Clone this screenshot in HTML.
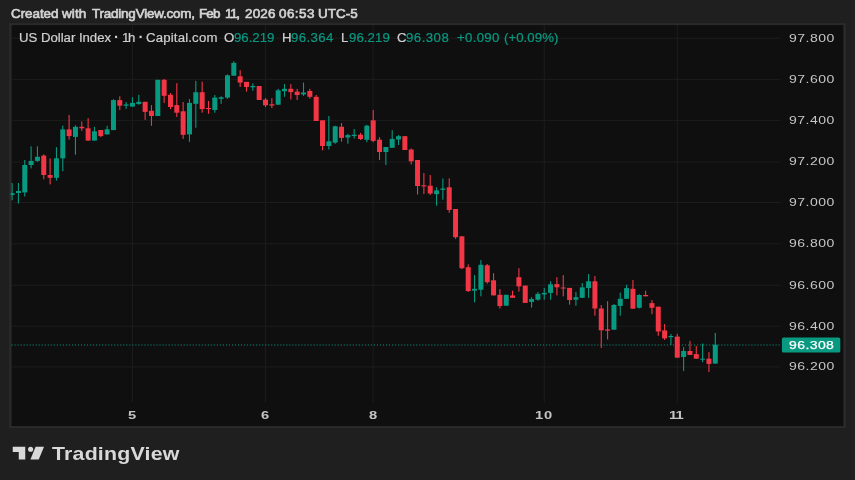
<!DOCTYPE html>
<html><head><meta charset="utf-8"><title>US Dollar Index</title>
<style>
html,body{margin:0;padding:0;}
body{width:855px;height:480px;background:#1f1f1f;overflow:hidden;position:relative;font-family:"Liberation Sans",sans-serif;}
.t{position:absolute;white-space:nowrap;height:16px;line-height:16px;font-size:12px;transform-origin:0 50%;transform:scaleX(1.1);}
.hd{color:#d4d4d4;}
.lg{color:#cfcfcf;}
.gr{color:#089981;}
.pl{color:#c6c6c6;}
.cu{color:#ffffff;}
.tl{color:#c4c4c4;}
#clip{position:absolute;left:0;top:0;width:855px;height:480px;overflow:hidden;}
#clip svg{position:absolute;left:0;top:0;}
#cur{position:absolute;left:782px;top:337.3px;width:58.3px;height:15.2px;background:#089981;border-radius:1.5px;}
#logo{position:absolute;left:0;top:0;}
#lt{position:absolute;left:51.75px;top:442.0px;height:24px;line-height:24px;font-size:17.8px;font-weight:bold;color:#d9d9d9;white-space:nowrap;transform-origin:0 50%;transform:scaleX(1.2);letter-spacing:0.167px;}
</style></head><body>
<div id="clip"><svg width="855" height="480" viewBox="0 0 855 480">
<rect x="9.35" y="23.2" width="836.5" height="404.9" fill="#2b2b2b"/>
<rect x="11.55" y="25.1" width="831.8" height="401" fill="#0f0f0f"/>
<rect x="11.55" y="37.75" width="769.3" height="1.1" fill="#1c1c1c"/>
<rect x="11.55" y="78.85" width="769.3" height="1.1" fill="#1c1c1c"/>
<rect x="11.55" y="119.85" width="769.3" height="1.1" fill="#1c1c1c"/>
<rect x="11.55" y="161.45" width="769.3" height="1.1" fill="#1c1c1c"/>
<rect x="11.55" y="201.95" width="769.3" height="1.1" fill="#1c1c1c"/>
<rect x="11.55" y="243.25" width="769.3" height="1.1" fill="#1c1c1c"/>
<rect x="11.55" y="284.75" width="769.3" height="1.1" fill="#1c1c1c"/>
<rect x="11.55" y="325.65" width="769.3" height="1.1" fill="#1c1c1c"/>
<rect x="11.55" y="366.35" width="769.3" height="1.1" fill="#1c1c1c"/>
<rect x="131.91" y="25.1" width="1.1" height="377.3" fill="#1c1c1c"/>
<rect x="264.95" y="25.1" width="1.1" height="377.3" fill="#1c1c1c"/>
<rect x="372.64" y="25.1" width="1.1" height="377.3" fill="#1c1c1c"/>
<rect x="543.69" y="25.1" width="1.1" height="377.3" fill="#1c1c1c"/>
<rect x="676.73" y="25.1" width="1.1" height="377.3" fill="#1c1c1c"/>
<line x1="11.5" y1="345" x2="781" y2="345" stroke="#089981" stroke-width="1.15" stroke-dasharray="1.1 1.92" opacity="0.95"/>
<clipPath id="cc"><rect x="10.6" y="25.1" width="770" height="401"/></clipPath><g clip-path="url(#cc)">
<rect x="11.55" y="183.0" width="1.1" height="17.3" fill="#089981"/>
<rect x="9.60" y="193.2" width="5.0" height="1.8" fill="#089981"/>
<rect x="17.88" y="183.0" width="1.1" height="20.5" fill="#089981"/>
<rect x="15.93" y="191.0" width="5.0" height="2.0" fill="#089981"/>
<rect x="24.22" y="160.0" width="1.1" height="36.5" fill="#089981"/>
<rect x="22.27" y="165.0" width="5.0" height="27.4" fill="#089981"/>
<rect x="30.55" y="146.3" width="1.1" height="22.1" fill="#089981"/>
<rect x="28.60" y="160.9" width="5.0" height="4.1" fill="#089981"/>
<rect x="36.89" y="146.3" width="1.1" height="15.5" fill="#089981"/>
<rect x="34.94" y="156.8" width="5.0" height="4.1" fill="#089981"/>
<rect x="43.23" y="154.3" width="1.1" height="25.0" fill="#f23645"/>
<rect x="41.27" y="155.6" width="5.0" height="19.4" fill="#f23645"/>
<rect x="49.56" y="158.5" width="1.1" height="25.9" fill="#f23645"/>
<rect x="47.61" y="175.0" width="5.0" height="2.8" fill="#f23645"/>
<rect x="55.90" y="147.2" width="1.1" height="33.4" fill="#089981"/>
<rect x="53.95" y="158.3" width="5.0" height="19.5" fill="#089981"/>
<rect x="62.23" y="125.6" width="1.1" height="45.6" fill="#089981"/>
<rect x="60.28" y="129.4" width="5.0" height="28.9" fill="#089981"/>
<rect x="68.56" y="114.9" width="1.1" height="24.8" fill="#f23645"/>
<rect x="66.61" y="129.4" width="5.0" height="6.7" fill="#f23645"/>
<rect x="74.90" y="125.3" width="1.1" height="29.4" fill="#089981"/>
<rect x="72.95" y="126.8" width="5.0" height="10.1" fill="#089981"/>
<rect x="81.23" y="121.5" width="1.1" height="9.4" fill="#f23645"/>
<rect x="79.28" y="126.8" width="5.0" height="1.5" fill="#f23645"/>
<rect x="87.57" y="118.1" width="1.1" height="22.5" fill="#f23645"/>
<rect x="85.62" y="128.3" width="5.0" height="12.3" fill="#f23645"/>
<rect x="93.91" y="126.8" width="1.1" height="13.8" fill="#089981"/>
<rect x="91.95" y="131.3" width="5.0" height="9.3" fill="#089981"/>
<rect x="100.24" y="130.0" width="1.1" height="7.1" fill="#f23645"/>
<rect x="98.29" y="130.0" width="5.0" height="6.1" fill="#f23645"/>
<rect x="106.58" y="125.7" width="1.1" height="8.7" fill="#089981"/>
<rect x="104.62" y="129.3" width="5.0" height="5.1" fill="#089981"/>
<rect x="112.91" y="99.1" width="1.1" height="31.0" fill="#089981"/>
<rect x="110.96" y="100.1" width="5.0" height="30.0" fill="#089981"/>
<rect x="119.24" y="96.3" width="1.1" height="13.7" fill="#f23645"/>
<rect x="117.29" y="100.1" width="5.0" height="5.6" fill="#f23645"/>
<rect x="125.58" y="102.0" width="1.1" height="6.9" fill="#089981"/>
<rect x="123.63" y="104.4" width="5.0" height="1.3" fill="#089981"/>
<rect x="131.91" y="97.3" width="1.1" height="9.3" fill="#089981"/>
<rect x="129.97" y="102.9" width="5.0" height="3.7" fill="#089981"/>
<rect x="138.25" y="94.8" width="1.1" height="10.0" fill="#089981"/>
<rect x="136.30" y="101.8" width="5.0" height="2.2" fill="#089981"/>
<rect x="144.58" y="101.8" width="1.1" height="18.0" fill="#f23645"/>
<rect x="142.63" y="101.8" width="5.0" height="10.1" fill="#f23645"/>
<rect x="150.92" y="105.1" width="1.1" height="20.7" fill="#f23645"/>
<rect x="148.97" y="110.8" width="5.0" height="5.2" fill="#f23645"/>
<rect x="157.25" y="79.8" width="1.1" height="36.2" fill="#089981"/>
<rect x="155.31" y="79.8" width="5.0" height="36.2" fill="#089981"/>
<rect x="163.59" y="78.9" width="1.1" height="24.0" fill="#f23645"/>
<rect x="161.64" y="79.8" width="5.0" height="16.0" fill="#f23645"/>
<rect x="169.92" y="93.0" width="1.1" height="16.1" fill="#f23645"/>
<rect x="167.97" y="94.8" width="5.0" height="12.2" fill="#f23645"/>
<rect x="176.26" y="83.2" width="1.1" height="33.8" fill="#f23645"/>
<rect x="174.31" y="105.1" width="5.0" height="7.6" fill="#f23645"/>
<rect x="182.59" y="102.0" width="1.1" height="36.9" fill="#f23645"/>
<rect x="180.64" y="111.3" width="5.0" height="23.5" fill="#f23645"/>
<rect x="188.93" y="99.1" width="1.1" height="42.8" fill="#089981"/>
<rect x="186.98" y="102.9" width="5.0" height="31.5" fill="#089981"/>
<rect x="195.26" y="80.8" width="1.1" height="46.9" fill="#089981"/>
<rect x="193.31" y="92.2" width="5.0" height="11.6" fill="#089981"/>
<rect x="201.60" y="81.7" width="1.1" height="31.0" fill="#f23645"/>
<rect x="199.65" y="92.2" width="5.0" height="16.9" fill="#f23645"/>
<rect x="207.93" y="101.0" width="1.1" height="12.8" fill="#f23645"/>
<rect x="205.98" y="108.0" width="5.0" height="1.1" fill="#f23645"/>
<rect x="214.27" y="95.0" width="1.1" height="17.7" fill="#089981"/>
<rect x="212.32" y="97.6" width="5.0" height="12.4" fill="#089981"/>
<rect x="220.60" y="96.3" width="1.1" height="7.5" fill="#089981"/>
<rect x="218.66" y="97.3" width="5.0" height="1.5" fill="#089981"/>
<rect x="226.94" y="74.4" width="1.1" height="24.4" fill="#089981"/>
<rect x="224.99" y="75.3" width="5.0" height="22.3" fill="#089981"/>
<rect x="233.27" y="61.3" width="1.1" height="14.4" fill="#089981"/>
<rect x="231.32" y="62.9" width="5.0" height="12.8" fill="#089981"/>
<rect x="239.61" y="70.1" width="1.1" height="16.9" fill="#f23645"/>
<rect x="237.66" y="76.3" width="5.0" height="6.3" fill="#f23645"/>
<rect x="245.94" y="81.9" width="1.1" height="9.7" fill="#f23645"/>
<rect x="244.00" y="81.9" width="5.0" height="5.1" fill="#f23645"/>
<rect x="252.28" y="83.3" width="1.1" height="7.5" fill="#089981"/>
<rect x="250.33" y="86.0" width="5.0" height="1.3" fill="#089981"/>
<rect x="258.62" y="86.0" width="1.1" height="14.0" fill="#f23645"/>
<rect x="256.67" y="86.0" width="5.0" height="14.0" fill="#f23645"/>
<rect x="264.95" y="98.1" width="1.1" height="9.0" fill="#f23645"/>
<rect x="263.00" y="99.6" width="5.0" height="5.7" fill="#f23645"/>
<rect x="271.29" y="98.1" width="1.1" height="10.0" fill="#f23645"/>
<rect x="269.34" y="104.3" width="5.0" height="1.3" fill="#f23645"/>
<rect x="277.62" y="88.8" width="1.1" height="15.9" fill="#089981"/>
<rect x="275.67" y="90.3" width="5.0" height="14.4" fill="#089981"/>
<rect x="283.95" y="84.1" width="1.1" height="12.7" fill="#089981"/>
<rect x="282.00" y="88.8" width="5.0" height="2.4" fill="#089981"/>
<rect x="290.29" y="84.1" width="1.1" height="15.4" fill="#f23645"/>
<rect x="288.34" y="88.8" width="5.0" height="3.3" fill="#f23645"/>
<rect x="296.62" y="88.8" width="1.1" height="11.2" fill="#f23645"/>
<rect x="294.68" y="91.6" width="5.0" height="3.4" fill="#f23645"/>
<rect x="302.96" y="82.6" width="1.1" height="13.3" fill="#089981"/>
<rect x="301.01" y="92.5" width="5.0" height="1.9" fill="#089981"/>
<rect x="309.30" y="88.8" width="1.1" height="9.9" fill="#f23645"/>
<rect x="307.35" y="91.0" width="5.0" height="5.8" fill="#f23645"/>
<rect x="315.63" y="95.0" width="1.1" height="26.0" fill="#f23645"/>
<rect x="313.68" y="96.8" width="5.0" height="24.2" fill="#f23645"/>
<rect x="321.97" y="120.3" width="1.1" height="30.0" fill="#f23645"/>
<rect x="320.02" y="120.3" width="5.0" height="25.7" fill="#f23645"/>
<rect x="328.30" y="116.0" width="1.1" height="33.4" fill="#089981"/>
<rect x="326.35" y="141.3" width="5.0" height="4.7" fill="#089981"/>
<rect x="334.63" y="125.7" width="1.1" height="18.0" fill="#089981"/>
<rect x="332.69" y="126.3" width="5.0" height="16.3" fill="#089981"/>
<rect x="340.97" y="123.1" width="1.1" height="18.6" fill="#f23645"/>
<rect x="339.02" y="126.8" width="5.0" height="11.1" fill="#f23645"/>
<rect x="347.31" y="133.8" width="1.1" height="9.9" fill="#089981"/>
<rect x="345.36" y="135.1" width="5.0" height="2.4" fill="#089981"/>
<rect x="353.64" y="129.1" width="1.1" height="9.4" fill="#089981"/>
<rect x="351.69" y="134.7" width="5.0" height="1.3" fill="#089981"/>
<rect x="359.98" y="132.9" width="1.1" height="7.1" fill="#f23645"/>
<rect x="358.03" y="134.7" width="5.0" height="4.3" fill="#f23645"/>
<rect x="366.31" y="124.8" width="1.1" height="17.4" fill="#089981"/>
<rect x="364.36" y="125.7" width="5.0" height="14.1" fill="#089981"/>
<rect x="372.64" y="110.0" width="1.1" height="32.2" fill="#f23645"/>
<rect x="370.69" y="120.3" width="5.0" height="20.6" fill="#f23645"/>
<rect x="378.98" y="137.2" width="1.1" height="22.8" fill="#f23645"/>
<rect x="377.03" y="139.7" width="5.0" height="12.3" fill="#f23645"/>
<rect x="385.31" y="147.0" width="1.1" height="18.0" fill="#089981"/>
<rect x="383.37" y="147.0" width="5.0" height="5.0" fill="#089981"/>
<rect x="391.65" y="130.2" width="1.1" height="17.6" fill="#089981"/>
<rect x="389.70" y="138.9" width="5.0" height="8.9" fill="#089981"/>
<rect x="397.99" y="135.0" width="1.1" height="10.0" fill="#089981"/>
<rect x="396.04" y="136.2" width="5.0" height="3.3" fill="#089981"/>
<rect x="404.32" y="136.2" width="1.1" height="13.8" fill="#f23645"/>
<rect x="402.37" y="136.2" width="5.0" height="13.8" fill="#f23645"/>
<rect x="410.66" y="148.5" width="1.1" height="16.0" fill="#f23645"/>
<rect x="408.71" y="149.5" width="5.0" height="11.8" fill="#f23645"/>
<rect x="416.99" y="160.0" width="1.1" height="34.5" fill="#f23645"/>
<rect x="415.04" y="160.0" width="5.0" height="26.0" fill="#f23645"/>
<rect x="423.32" y="173.1" width="1.1" height="21.0" fill="#f23645"/>
<rect x="421.38" y="185.3" width="5.0" height="1.1" fill="#f23645"/>
<rect x="429.66" y="175.0" width="1.1" height="20.0" fill="#f23645"/>
<rect x="427.71" y="185.7" width="5.0" height="7.8" fill="#f23645"/>
<rect x="436.00" y="187.2" width="1.1" height="18.5" fill="#089981"/>
<rect x="434.05" y="190.4" width="5.0" height="3.7" fill="#089981"/>
<rect x="442.33" y="178.5" width="1.1" height="21.2" fill="#089981"/>
<rect x="440.38" y="188.5" width="5.0" height="1.3" fill="#089981"/>
<rect x="448.67" y="178.3" width="1.1" height="34.5" fill="#f23645"/>
<rect x="446.72" y="187.3" width="5.0" height="22.7" fill="#f23645"/>
<rect x="455.00" y="209.0" width="1.1" height="29.8" fill="#f23645"/>
<rect x="453.05" y="209.0" width="5.0" height="28.2" fill="#f23645"/>
<rect x="461.34" y="236.3" width="1.1" height="32.8" fill="#f23645"/>
<rect x="459.39" y="236.3" width="5.0" height="31.9" fill="#f23645"/>
<rect x="467.67" y="264.4" width="1.1" height="27.6" fill="#f23645"/>
<rect x="465.72" y="267.2" width="5.0" height="23.8" fill="#f23645"/>
<rect x="474.00" y="275.1" width="1.1" height="27.2" fill="#089981"/>
<rect x="472.06" y="288.8" width="5.0" height="1.9" fill="#089981"/>
<rect x="480.34" y="260.1" width="1.1" height="36.2" fill="#089981"/>
<rect x="478.39" y="264.8" width="5.0" height="24.9" fill="#089981"/>
<rect x="486.68" y="264.0" width="1.1" height="19.7" fill="#f23645"/>
<rect x="484.73" y="265.3" width="5.0" height="16.9" fill="#f23645"/>
<rect x="493.01" y="273.2" width="1.1" height="22.2" fill="#f23645"/>
<rect x="491.06" y="280.3" width="5.0" height="15.1" fill="#f23645"/>
<rect x="499.35" y="289.2" width="1.1" height="19.3" fill="#f23645"/>
<rect x="497.40" y="294.8" width="5.0" height="11.3" fill="#f23645"/>
<rect x="505.68" y="294.8" width="1.1" height="10.9" fill="#089981"/>
<rect x="503.73" y="294.8" width="5.0" height="10.9" fill="#089981"/>
<rect x="512.01" y="290.7" width="1.1" height="7.1" fill="#f23645"/>
<rect x="510.06" y="295.4" width="5.0" height="2.4" fill="#f23645"/>
<rect x="518.35" y="268.2" width="1.1" height="23.4" fill="#f23645"/>
<rect x="516.40" y="277.2" width="5.0" height="9.2" fill="#f23645"/>
<rect x="524.69" y="285.6" width="1.1" height="17.3" fill="#f23645"/>
<rect x="522.74" y="285.6" width="5.0" height="17.3" fill="#f23645"/>
<rect x="531.02" y="297.2" width="1.1" height="10.4" fill="#089981"/>
<rect x="529.07" y="299.1" width="5.0" height="2.8" fill="#089981"/>
<rect x="537.36" y="292.0" width="1.1" height="8.6" fill="#089981"/>
<rect x="535.40" y="293.9" width="5.0" height="5.8" fill="#089981"/>
<rect x="543.69" y="287.9" width="1.1" height="11.8" fill="#089981"/>
<rect x="541.74" y="292.9" width="5.0" height="1.5" fill="#089981"/>
<rect x="550.03" y="281.3" width="1.1" height="18.4" fill="#089981"/>
<rect x="548.08" y="284.3" width="5.0" height="8.6" fill="#089981"/>
<rect x="556.36" y="277.2" width="1.1" height="18.2" fill="#f23645"/>
<rect x="554.41" y="284.1" width="5.0" height="3.2" fill="#f23645"/>
<rect x="562.70" y="275.1" width="1.1" height="21.2" fill="#f23645"/>
<rect x="560.75" y="287.5" width="5.0" height="1.0" fill="#f23645"/>
<rect x="569.03" y="287.9" width="1.1" height="16.8" fill="#f23645"/>
<rect x="567.08" y="287.9" width="5.0" height="12.1" fill="#f23645"/>
<rect x="575.37" y="291.9" width="1.1" height="13.9" fill="#089981"/>
<rect x="573.41" y="297.2" width="5.0" height="2.5" fill="#089981"/>
<rect x="581.70" y="283.0" width="1.1" height="14.8" fill="#089981"/>
<rect x="579.75" y="287.4" width="5.0" height="10.4" fill="#089981"/>
<rect x="588.04" y="274.0" width="1.1" height="23.8" fill="#089981"/>
<rect x="586.09" y="281.3" width="5.0" height="6.8" fill="#089981"/>
<rect x="594.37" y="276.0" width="1.1" height="39.7" fill="#f23645"/>
<rect x="592.42" y="281.3" width="5.0" height="27.2" fill="#f23645"/>
<rect x="600.71" y="305.0" width="1.1" height="42.9" fill="#f23645"/>
<rect x="598.75" y="308.5" width="5.0" height="21.8" fill="#f23645"/>
<rect x="607.04" y="301.2" width="1.1" height="38.3" fill="#f23645"/>
<rect x="605.09" y="329.4" width="5.0" height="1.3" fill="#f23645"/>
<rect x="613.38" y="304.0" width="1.1" height="25.7" fill="#089981"/>
<rect x="611.43" y="305.0" width="5.0" height="24.7" fill="#089981"/>
<rect x="619.71" y="292.6" width="1.1" height="23.1" fill="#089981"/>
<rect x="617.76" y="298.8" width="5.0" height="7.1" fill="#089981"/>
<rect x="626.05" y="284.7" width="1.1" height="14.1" fill="#089981"/>
<rect x="624.10" y="288.1" width="5.0" height="10.7" fill="#089981"/>
<rect x="632.38" y="280.0" width="1.1" height="28.7" fill="#f23645"/>
<rect x="630.43" y="288.8" width="5.0" height="19.9" fill="#f23645"/>
<rect x="638.72" y="294.1" width="1.1" height="14.4" fill="#089981"/>
<rect x="636.76" y="295.0" width="5.0" height="12.8" fill="#089981"/>
<rect x="645.05" y="290.7" width="1.1" height="5.6" fill="#f23645"/>
<rect x="643.10" y="295.0" width="5.0" height="1.3" fill="#f23645"/>
<rect x="651.39" y="300.1" width="1.1" height="14.1" fill="#f23645"/>
<rect x="649.44" y="303.1" width="5.0" height="4.7" fill="#f23645"/>
<rect x="657.72" y="306.7" width="1.1" height="29.1" fill="#f23645"/>
<rect x="655.77" y="306.7" width="5.0" height="24.8" fill="#f23645"/>
<rect x="664.06" y="324.0" width="1.1" height="16.0" fill="#f23645"/>
<rect x="662.11" y="330.4" width="5.0" height="8.0" fill="#f23645"/>
<rect x="670.39" y="333.9" width="1.1" height="11.1" fill="#089981"/>
<rect x="668.44" y="336.0" width="5.0" height="1.2" fill="#089981"/>
<rect x="676.73" y="333.9" width="1.1" height="23.8" fill="#f23645"/>
<rect x="674.77" y="336.6" width="5.0" height="21.1" fill="#f23645"/>
<rect x="683.06" y="347.1" width="1.1" height="24.0" fill="#089981"/>
<rect x="681.11" y="351.0" width="5.0" height="6.0" fill="#089981"/>
<rect x="689.40" y="340.9" width="1.1" height="14.0" fill="#f23645"/>
<rect x="687.45" y="351.0" width="5.0" height="3.9" fill="#f23645"/>
<rect x="695.73" y="346.1" width="1.1" height="12.6" fill="#f23645"/>
<rect x="693.78" y="354.1" width="5.0" height="4.6" fill="#f23645"/>
<rect x="702.07" y="343.5" width="1.1" height="18.7" fill="#089981"/>
<rect x="700.12" y="358.7" width="5.0" height="1.0" fill="#089981"/>
<rect x="708.40" y="352.1" width="1.1" height="19.9" fill="#f23645"/>
<rect x="706.45" y="358.7" width="5.0" height="5.2" fill="#f23645"/>
<rect x="714.74" y="333.0" width="1.1" height="30.6" fill="#089981"/>
<rect x="712.78" y="344.7" width="5.0" height="18.9" fill="#089981"/>
</g>
<rect x="781.9" y="337.5" width="58.4" height="15.1" rx="1.6" fill="#089981"/>
</svg></div>
<div class="t hd" style="left:10.75px;top:5.74px;letter-spacing:-0.044px;transform:scaleX(1.12);font-size:12px;-webkit-text-stroke:0.6px;">Created</div>
<div class="t hd" style="left:62.20px;top:5.74px;letter-spacing:0.123px;transform:scaleX(1.12);font-size:12px;-webkit-text-stroke:0.6px;">with</div>
<div class="t hd" style="left:91.70px;top:5.74px;letter-spacing:-0.182px;transform:scaleX(1.12);font-size:12px;-webkit-text-stroke:0.6px;">TradingView.com,</div>
<div class="t hd" style="left:199.35px;top:5.74px;letter-spacing:-0.778px;transform:scaleX(1.12);font-size:12px;-webkit-text-stroke:0.6px;">Feb</div>
<div class="t hd" style="left:225.35px;top:5.74px;letter-spacing:-1.2px;transform:scaleX(1.12);font-size:12px;-webkit-text-stroke:0.6px;">11,</div>
<div class="t hd" style="left:244.75px;top:5.74px;letter-spacing:0.154px;transform:scaleX(1.12);font-size:12px;-webkit-text-stroke:0.6px;">2026</div>
<div class="t hd" style="left:279.15px;top:5.74px;letter-spacing:0.388px;transform:scaleX(1.12);font-size:12px;-webkit-text-stroke:0.6px;">06:53</div>
<div class="t hd" style="left:318.25px;top:5.74px;letter-spacing:0.035px;transform:scaleX(1.12);font-size:12px;-webkit-text-stroke:0.6px;">UTC-5</div>
<div class="t lg" style="left:18.50px;top:29.54px;letter-spacing:-0.023px;transform:scaleX(1.1);font-size:12px;-webkit-text-stroke:0.2px;">US Dollar Index</div>
<div class="t lg" style="left:113.88px;top:28.50px;letter-spacing:0px;transform:scaleX(1.0);font-size:15px;font-weight:bold;">·</div>
<div class="t lg" style="left:121.75px;top:29.54px;letter-spacing:-1.25px;transform:scaleX(1.1);font-size:12px;-webkit-text-stroke:0.2px;">1h</div>
<div class="t lg" style="left:138.38px;top:28.50px;letter-spacing:0px;transform:scaleX(1.0);font-size:15px;font-weight:bold;">·</div>
<div class="t lg" style="left:145.90px;top:29.54px;letter-spacing:0.155px;transform:scaleX(1.1);font-size:12px;-webkit-text-stroke:0.2px;">Capital.com</div>
<div class="t lg" style="left:224.32px;top:29.54px;letter-spacing:0px;transform:scaleX(1.1);font-size:12px;-webkit-text-stroke:0.2px;">O</div>
<div class="t lg gr" style="left:234.30px;top:29.54px;letter-spacing:0.0px;transform:scaleX(1.1);font-size:12px;-webkit-text-stroke:0.2px;">96.219</div>
<div class="t lg" style="left:281.90px;top:29.54px;letter-spacing:0px;transform:scaleX(1.1);font-size:12px;-webkit-text-stroke:0.2px;">H</div>
<div class="t lg gr" style="left:291.00px;top:29.54px;letter-spacing:0.373px;transform:scaleX(1.1);font-size:12px;-webkit-text-stroke:0.2px;">96.364</div>
<div class="t lg" style="left:341.35px;top:29.54px;letter-spacing:0px;transform:scaleX(1.1);font-size:12px;-webkit-text-stroke:0.2px;">L</div>
<div class="t lg gr" style="left:348.90px;top:29.54px;letter-spacing:0.073px;transform:scaleX(1.1);font-size:12px;-webkit-text-stroke:0.2px;">96.219</div>
<div class="t lg" style="left:396.78px;top:29.54px;letter-spacing:0px;transform:scaleX(1.1);font-size:12px;-webkit-text-stroke:0.2px;">C</div>
<div class="t lg gr" style="left:406.30px;top:29.54px;letter-spacing:0.436px;transform:scaleX(1.1);font-size:12px;-webkit-text-stroke:0.2px;">96.308</div>
<div class="t lg gr" style="left:456.70px;top:29.54px;letter-spacing:0.282px;transform:scaleX(1.1);font-size:12px;-webkit-text-stroke:0.2px;">+0.090</div>
<div class="t lg gr" style="left:503.55px;top:29.54px;letter-spacing:0.052px;transform:scaleX(1.1);font-size:12px;-webkit-text-stroke:0.2px;">(+0.09%)</div>
<div class="t pl" style="left:789.15px;top:29.60px;letter-spacing:0.392px;transform:scaleX(1.2);font-size:11.7px;">97.800</div>
<div class="t pl" style="left:789.15px;top:70.70px;letter-spacing:0.392px;transform:scaleX(1.2);font-size:11.7px;">97.600</div>
<div class="t pl" style="left:789.15px;top:111.70px;letter-spacing:0.392px;transform:scaleX(1.2);font-size:11.7px;">97.400</div>
<div class="t pl" style="left:789.15px;top:153.30px;letter-spacing:0.392px;transform:scaleX(1.2);font-size:11.7px;">97.200</div>
<div class="t pl" style="left:789.15px;top:193.80px;letter-spacing:0.392px;transform:scaleX(1.2);font-size:11.7px;">97.000</div>
<div class="t pl" style="left:789.15px;top:235.10px;letter-spacing:0.392px;transform:scaleX(1.2);font-size:11.7px;">96.800</div>
<div class="t pl" style="left:789.15px;top:276.60px;letter-spacing:0.392px;transform:scaleX(1.2);font-size:11.7px;">96.600</div>
<div class="t pl" style="left:789.15px;top:317.50px;letter-spacing:0.392px;transform:scaleX(1.2);font-size:11.7px;">96.400</div>
<div class="t pl" style="left:789.15px;top:358.20px;letter-spacing:0.392px;transform:scaleX(1.2);font-size:11.7px;">96.200</div>
<div class="t cu" style="left:789.40px;top:337.05px;letter-spacing:0.333px;transform:scaleX(1.2);font-size:11.7px;-webkit-text-stroke:0.25px;">96.308</div>
<div class="t tl" style="left:127.57px;top:407.37px;letter-spacing:0px;transform:scaleX(1.28);font-size:11.5px;font-weight:bold;">5</div>
<div class="t tl" style="left:261.12px;top:407.37px;letter-spacing:0px;transform:scaleX(1.28);font-size:11.5px;font-weight:bold;">6</div>
<div class="t tl" style="left:368.62px;top:407.37px;letter-spacing:0px;transform:scaleX(1.28);font-size:11.5px;font-weight:bold;">8</div>
<div class="t tl" style="left:535.40px;top:407.37px;letter-spacing:0.68px;transform:scaleX(1.28);font-size:11.5px;font-weight:bold;">10</div>
<div class="t tl" style="left:668.90px;top:407.37px;letter-spacing:-0.76px;transform:scaleX(1.28);font-size:11.5px;font-weight:bold;">11</div>
<svg id="logo" width="855" height="480" viewBox="0 0 855 480">
<g fill="#d9d9d9">
<path d="M12.75 446.75H25.25V459.5H18.75V452H12.75Z"/>
<circle cx="30.6" cy="449.2" r="2.55"/>
<path d="M35.6 446.75H44L38.75 459.5H30.4Z"/>
</g></svg>
<div id="lt">TradingView</div>
</body></html>
